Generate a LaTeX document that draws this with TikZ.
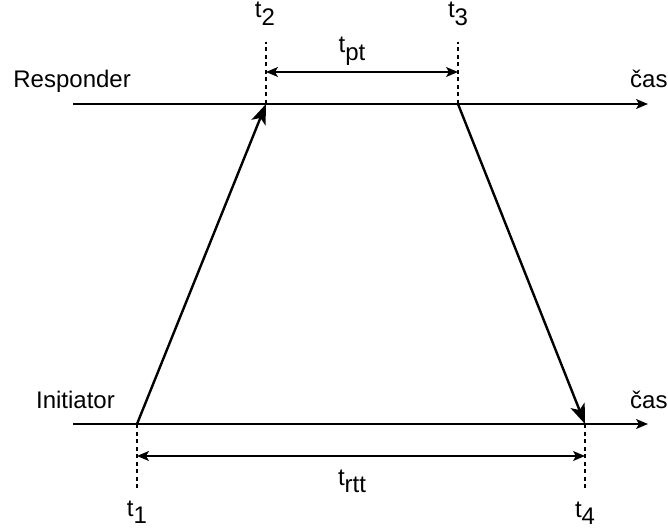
\documentclass[tikz,border=0pt]{standalone}
\usepackage{fontspec}
\setmainfont{Liberation Sans}
\usetikzlibrary{arrows.meta}
\tikzset {
  axis style/.style = {
    line width=1.3pt,
    -{Stealth[length=12pt, width=10pt, inset=3pt]}
  },
  message style/.style = {
    line width=2.4pt,
    -{Stealth[length=20pt, width=15pt, inset=5pt]}
  },
  marker style/.style = {
    line width=1.1pt,
    dash pattern=on 4pt off 3.5pt
  },
  span style/.style = {
    line width=1.3pt,
    {Stealth[length=12pt, width=10pt, inset=3pt]}-{Stealth[length=12pt, width=10pt, inset=3pt]}
  },
  txt/.style = {
    font=\fontsize{24}{28}\selectfont,
    inner sep=0pt
  }
}
\newcommand{\tsub}[1]{t\raisebox{-0.33em}{#1}}

\begin{document}
\begin{tikzpicture}[x=1pt, y=-1pt]
\useasboundingbox (0,0) rectangle (668,529);

% --- Time axes ---
\coordinate (Rstart) at (73,104);
\coordinate (Rend)   at (648,104);
\coordinate (Istart) at (73,424);
\coordinate (Iend)   at (648,424);
\draw[axis style] (Rstart) -- (Rend);
\draw[axis style] (Istart) -- (Iend);
\node[txt, anchor=base east] (resp) at (131,88) {Responder};
\node[txt, anchor=base west] (casR) at (630,88) {čas};
\node[txt, anchor=base east] (init) at (115,408) {Initiator};
\node[txt, anchor=base west] (casI) at (630,408) {čas};

% --- Time instants ---
\coordinate (t1) at (137,424);
\coordinate (t2) at (266,104);
\coordinate (t3) at (458,104);
\coordinate (t4) at (585,424);
\coordinate (t1end) at (137,488);
\coordinate (t2end) at (266,42);
\coordinate (t3end) at (458,42);
\coordinate (t4end) at (585,488);
\draw[marker style] (t1) -- (t1end);
\draw[marker style] (t2) -- (t2end);
\draw[marker style] (t3) -- (t3end);
\draw[marker style] (t4) -- (t4end);
\node[txt, anchor=base] (lt1) at (137,516) {\tsub{1}};
\node[txt, anchor=base] (lt2) at (265,18) {\tsub{2}};
\node[txt, anchor=base] (lt3) at (458,18) {\tsub{3}};
\node[txt, anchor=base] (lt4) at (585,517) {\tsub{4}};

% --- Messages ---
\draw[message style] (t1) -- (t2);
\draw[message style] (t3) -- (t4);

% --- Intervals ---
\coordinate (pt a) at (266,72);
\coordinate (pt b) at (458,72);
\draw[span style] (pt a) -- (pt b);
\node[txt, anchor=base] (tpt) at (352,53) {\tsub{pt}};

\coordinate (rtt a) at (137,456);
\coordinate (rtt b) at (585,456);
\draw[span style] (rtt a) -- (rtt b);
\node[txt, anchor=base] (trtt) at (352,485) {\tsub{rtt}};

\end{tikzpicture}
\end{document}
